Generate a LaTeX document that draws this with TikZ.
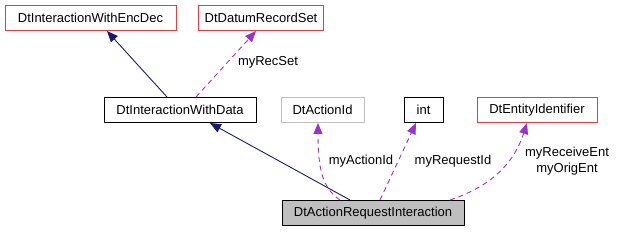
\documentclass[tikz,border=0pt]{standalone}
\usepackage{fontspec}
\setmainfont{Liberation Sans}
\usetikzlibrary{arrows.meta}
\definecolor{redframe}{HTML}{FF3333}
\definecolor{greyframe}{HTML}{BFBFBF}
\definecolor{inherit}{HTML}{191970}
\definecolor{member}{HTML}{9A32CD}

\begin{document}
\begin{tikzpicture}[x=1pt,y=-1pt,
    font=\fontsize{13}{16}\selectfont,
    cls/.style={draw,line width=1pt,minimum height=25pt,inner xsep=6pt,anchor=center},
    redcls/.style={cls,draw=redframe},
    greycls/.style={cls,draw=greyframe},
    basearrow/.style={draw=inherit,line width=0.9pt,-{Triangle[length=11pt,width=9pt,fill=inherit]}},
    memberarrow/.style={draw=member,line width=0.9pt,dash pattern=on 5pt off 4pt,-{Triangle[length=11pt,width=9pt,fill=member]}}]
                \useasboundingbox (0,0) rectangle (617,232);
                \node[redcls,minimum width=171pt] (encdec) at (90.5,18) {DtInteractionWithEncDec};
                \node[redcls,minimum width=122pt] (recset) at (261,18) {DtDatumRecordSet};
                \node[cls,minimum width=152pt] (withdata) at (180,110) {DtInteractionWithData};
                \node[greycls,minimum width=83pt] (actionid) at (322.5,110) {DtActionId};
                \node[cls,minimum width=39pt] (int) at (423.5,110) {int};
                \node[redcls,minimum width=120pt] (entity) at (537,110) {DtEntityIdentifier};
                \node[cls,fill=greyframe,minimum width=182pt] (request) at (373,213) {DtActionRequestInteraction};
                \draw[basearrow] (withdata.north -| 167,0) -- (encdec.south -| 107,0);
                \draw[memberarrow] (withdata.north -| 196,0) -- (recset.south -| 256,0);
                \node (recsetlbl) at (268,62) {myRecSet};
                \draw[basearrow] (request.north -| 350,0) -- (withdata.south -| 210,0);
                \draw[memberarrow] (request.north -| 340,0) .. controls (322,188) and (318,168) .. (actionid.south -| 318,0);
                \node (actionlbl) at (361,161) {myActionId};
                \draw[memberarrow] (request.north -| 380,0) -- (int.south -| 416,0);
                \node (requestlbl) at (453,161) {myRequestId};
                \draw[memberarrow] (request.north -| 450,0) .. controls (495,185) and (515,160) .. (entity.south -| 527,0);
                \node[align=center,inner sep=0pt] (entitylbl) at (567,161) {myReceiveEnt\\myOrigEnt};
\end{tikzpicture}
\end{document}
